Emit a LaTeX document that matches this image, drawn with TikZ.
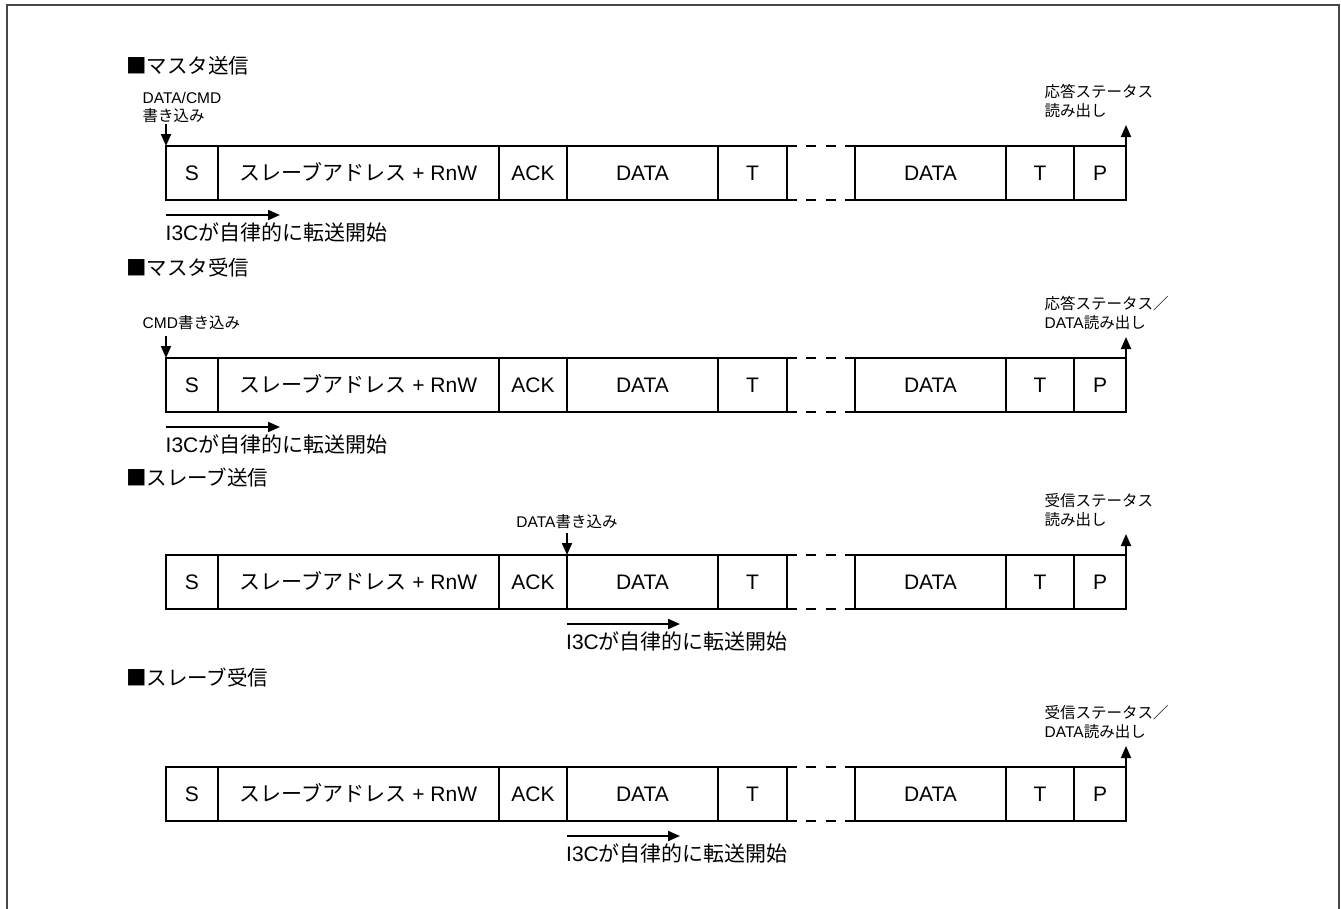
\documentclass[tikz,border=0pt]{standalone}
\usepackage{fontspec}
\setmainfont{Liberation Sans}
\newfontfamily\cjk{Noto Sans CJK JP}
\usetikzlibrary{arrows.meta}
\tikzset{
  cell/.style={draw, line width=2.6pt, minimum height=54pt, inner sep=0pt, outer sep=0pt,
    anchor=north west, text height=15pt, text depth=0pt, font=\fontsize{21}{25}\selectfont},
  gapline/.style={line width=2.6pt, dash pattern=on 10pt off 9.33pt},
  arr/.style={line width=2pt, -{Triangle[length=12pt,width=10pt]}},
  heading/.style={anchor=base west, inner sep=0pt, font=\fontsize{20.5}{24}\selectfont\cjk},
  lbl/.style={anchor=base west, inner sep=0pt, font=\fontsize{15.5}{18}\selectfont},
  note/.style={anchor=base west, inner sep=0pt, font=\fontsize{21}{25}\selectfont},
  frameline/.style={draw=black!72, line width=2pt}
}
\newcommand\framerow[2]{%
  \node[cell, minimum width=52pt]  (#1s) at (166,#2) {S};
  \node[cell, minimum width=281pt] (#1a) at (218,#2) {{\cjk スレーブアドレス} + RnW};
  \node[cell, minimum width=68pt]  (#1k) at (499,#2) {ACK};
  \node[cell, minimum width=151pt] (#1d) at (567,#2) {DATA};
  \node[cell, minimum width=69pt]  (#1t) at (718,#2) {T};
  \node[cell, minimum width=151pt] (#1e) at (855,#2) {DATA};
  \node[cell, minimum width=68pt]  (#1u) at (1006,#2) {T};
  \node[cell, minimum width=52pt]  (#1p) at (1074,#2) {P};
  \draw[gapline] (#1t.north east) -- (#1e.north west);
  \draw[gapline] (#1t.south east) -- (#1e.south west);
}
\begin{document}
\begin{tikzpicture}[x=1pt,y=-1pt]
\useasboundingbox (0,0) rectangle (1341,908);
\draw[frameline] (6.5,910) -- (6.5,5) -- (1338.5,5) -- (1338.5,910);

% ---------- Row 1: master transmit
\node[heading] (h1) at (126,73) {■マスタ送信};
\framerow{r1}{146}
\node[lbl] (r1inA) at (142.5,103.5) {DATA/CMD};
\node[lbl] (r1inB) at (142.5,121) {\cjk 書き込み};
\coordinate (r1in) at (166,123.5);
\draw[arr] (r1in) -- (r1s.north west);
\node[lbl] (r1outA) at (1044.5,97.5) {\cjk 応答ステータス};
\node[lbl] (r1outB) at (1044.5,116) {\cjk 読み出し};
\coordinate (r1out) at (1126,125);
\draw[arr] (r1p.north east) -- (r1out);
\coordinate (r1a0) at (166,215);
\coordinate (r1a1) at (280,215);
\draw[arr] (r1a0) -- (r1a1);
\node[note] (r1n) at (165.5,240) {I3C{\cjk が自律的に転送開始}};

% ---------- Row 2: master receive
\node[heading] (h2) at (126,275) {■マスタ受信};
\framerow{r2}{358}
\node[lbl] (r2inA) at (142.5,328.7) {CMD{\cjk 書き込み}};
\coordinate (r2in) at (166,335.5);
\draw[arr] (r2in) -- (r2s.north west);
\node[lbl] (r2outA) at (1044.5,309.5) {\cjk 応答ステータス／};
\node[lbl] (r2outB) at (1044.5,328) {DATA{\cjk 読み出し}};
\coordinate (r2out) at (1126,337);
\draw[arr] (r2p.north east) -- (r2out);
\coordinate (r2a0) at (166,427);
\coordinate (r2a1) at (280,427);
\draw[arr] (r2a0) -- (r2a1);
\node[note] (r2n) at (165.5,452) {I3C{\cjk が自律的に転送開始}};

% ---------- Row 3: slave transmit
\node[heading] (h3) at (126,485) {■スレーブ送信};
\framerow{r3}{555}
\node[lbl, anchor=base] (r3inA) at (567,527.7) {DATA{\cjk 書き込み}};
\coordinate (r3in) at (567,532.5);
\draw[arr] (r3in) -- (r3d.north west);
\node[lbl] (r3outA) at (1044.5,506.5) {\cjk 受信ステータス};
\node[lbl] (r3outB) at (1044.5,525) {\cjk 読み出し};
\coordinate (r3out) at (1126,534);
\draw[arr] (r3p.north east) -- (r3out);
\coordinate (r3a0) at (567,624);
\coordinate (r3a1) at (680,624);
\draw[arr] (r3a0) -- (r3a1);
\node[note] (r3n) at (566,649) {I3C{\cjk が自律的に転送開始}};

% ---------- Row 4: slave receive
\node[heading] (h4) at (126,685) {■スレーブ受信};
\framerow{r4}{767}
\node[lbl] (r4outA) at (1044.5,718.5) {\cjk 受信ステータス／};
\node[lbl] (r4outB) at (1044.5,737) {DATA{\cjk 読み出し}};
\coordinate (r4out) at (1126,746);
\draw[arr] (r4p.north east) -- (r4out);
\coordinate (r4a0) at (567,836);
\coordinate (r4a1) at (680,836);
\draw[arr] (r4a0) -- (r4a1);
\node[note] (r4n) at (566,861) {I3C{\cjk が自律的に転送開始}};
\end{tikzpicture}
\end{document}
